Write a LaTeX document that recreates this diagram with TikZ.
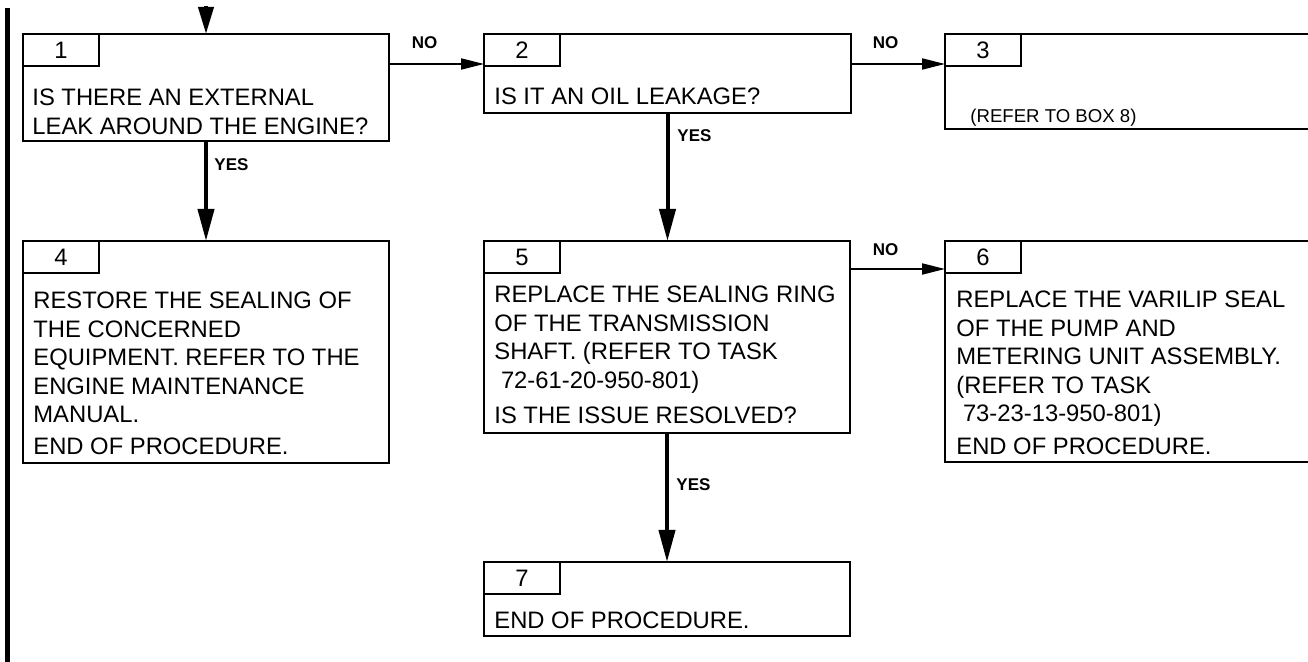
\documentclass[tikz,border=0pt]{standalone}
\usepackage{fontspec}
\setmainfont{Liberation Sans}
\usetikzlibrary{arrows.meta}
\begin{document}
\begin{tikzpicture}[x=0.5pt,y=-0.5pt,
  box/.style={draw, line width=1.3pt, inner sep=0pt, outer sep=0pt, anchor=north west},
  tab/.style={box, minimum width=38pt, minimum height=16pt, font=\fontsize{11.9}{14}\selectfont},
  txt/.style={inner sep=0pt, anchor=north west, align=left, font=\fontsize{11.9}{14.25}\selectfont},
  small/.style={txt, font=\fontsize{9.3}{11.2}\selectfont},
  lbl/.style={font=\bfseries\fontsize{8.5}{10}\selectfont, inner sep=0pt},
  vflow/.style={line width=2pt, -{Triangle[length=16pt,width=8pt]}},
  hflow/.style={line width=1pt, -{Triangle[length=11.5pt,width=5.5pt]}}]
\clip (0,0) rectangle (1308,662);
% left bar
\draw[line width=2.5pt] (7.5,8) -- (7.5,662);
% boxes
\node[box, minimum width=183pt, minimum height=53.5pt] (b1) at (23,34) {};
\node[box, minimum width=183.5pt, minimum height=39.5pt] (b2) at (484,34) {};
\node[box, minimum width=200pt, minimum height=47.5pt] (b3) at (945,34) {};
\node[box, minimum width=183pt, minimum height=111pt] (b4) at (23,241) {};
\node[box, minimum width=183pt, minimum height=96pt] (b5) at (484,241) {};
\node[box, minimum width=200pt, minimum height=110.5pt] (b6) at (945,241) {};
\node[box, minimum width=183pt, minimum height=37pt] (b7) at (484,562) {};
% tabs
\node[tab] (t1) at (b1.north west) {1};
\node[tab] (t2) at (b2.north west) {2};
\node[tab] (t3) at (b3.north west) {3};
\node[tab] (t4) at (b4.north west) {4};
\node[tab] (t5) at (b5.north west) {5};
\node[tab] (t6) at (b6.north west) {6};
\node[tab] (t7) at (b7.north west) {7};
% texts
\node[txt] (x1) at (32,85.3) {\strut IS THERE AN EXTERNAL\\LEAK AROUND THE ENGINE?};
\node[txt] (x2) at (494,84.6) {\strut IS IT AN OIL LEAKAGE?};
\node[small] (x3) at (970,106) {\strut (REFER TO BOX 8)};
\node[txt] (x4) at (33,288.6) {\strut RESTORE THE SEALING OF\\THE CONCERNED\\EQUIPMENT. REFER TO THE\\ENGINE MAINTENANCE\\MANUAL.\\[1.5pt]END OF PROCEDURE.};
\node[txt] (x5) at (494,282.6) {\strut REPLACE THE SEALING RING\\OF THE TRANSMISSION\\SHAFT. (REFER TO TASK\\\hspace*{3.3pt}72-61-20-950-801)\\[3.5pt]IS THE ISSUE RESOLVED?};
\node[txt] (x6) at (956,287.6) {\strut REPLACE THE VARILIP SEAL\\OF THE PUMP AND\\METERING UNIT ASSEMBLY.\\(REFER TO TASK\\\hspace*{3.3pt}73-23-13-950-801)\\[2pt]END OF PROCEDURE.};
\node[txt] (x7) at (494,608.6) {\strut END OF PROCEDURE.};
% connectors
\coordinate (in) at (206,6);
\draw[line width=2pt, -{Triangle[length=13.5pt,width=7.5pt]}] (in) -- (b1.north);
\draw[vflow] (b1.south) -- (b4.north);
\draw[vflow] (b2.south) -- (b2.south |- b5.north);
\draw[vflow] (b5.south) -- (b5.south |- b7.north);
\draw[hflow] ([yshift=1pt]b1.east |- t2.south west) -- ([yshift=1pt]t2.south west);
\draw[hflow] ([yshift=1pt]b2.east |- t3.south west) -- ([yshift=1pt]t3.south west);
\draw[hflow] ([yshift=2pt]b5.east |- t6.south west) -- ([yshift=2pt]t6.south west);
% labels
\node[lbl] (n1) at (424.5,43) {NO};
\node[lbl] (n2) at (885.5,43) {NO};
\node[lbl] (n3) at (885.5,250) {NO};
\node[lbl] (y1) at (231.5,165) {YES};
\node[lbl] (y2) at (694.5,136) {YES};
\node[lbl] (y3) at (693.5,485) {YES};
\end{tikzpicture}
\end{document}
